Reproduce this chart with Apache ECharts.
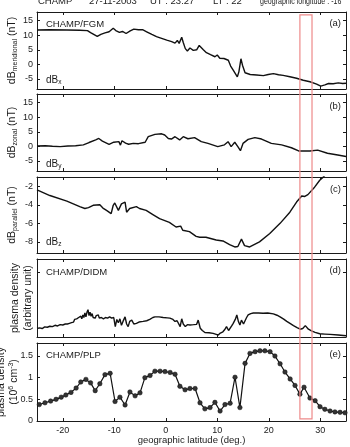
<!DOCTYPE html>
<html>
<head>
<meta charset="utf-8">
<script src="https://cdn.jsdelivr.net/npm/echarts@6/dist/echarts.min.js"></script>
<style>
html, body { margin: 0; padding: 0; background: #fff; }
#id-div-chart { width: 350px; height: 447px; }
</style>
</head>
<body>
<div id="id-div-chart"></div>
<script>
var log = console.log.bind(console)

var e = (selector) => document.querySelector(selector)

// [latitude, value]
var fgmX = [
    [-25, 11.8], [-22.5, 11.9], [-19.2, 11.8], [-16.7, 11.7], [-15.2, 11.6], [-14.6, 10.9],
    [-13.9, 10.2], [-13.3, 9.6], [-12.6, 10.3], [-11.8, 10.8], [-11.0, 11.2], [-10.2, 12.4],
    [-9.7, 11.6], [-9.0, 11.0], [-8.4, 11.3], [-7.7, 10.6], [-6.9, 11.5], [-6.2, 12.1],
    [-5.3, 11.9], [-4.5, 11.9], [-3.7, 11.2], [-2.7, 10.3], [-1.8, 9.5], [-0.8, 8.9],
    [0.2, 8.3], [1.15, 7.8], [1.8, 7.3], [2.25, 8.2], [2.6, 7.2], [3.1, 9.3], [3.4, 7.5],
    [3.8, 5.4], [4.2, 4.6], [4.7, 5.6], [5.35, 4.8], [6.0, 5.0], [6.5, 6.5], [6.8, 6.9],
    [7.3, 5.0], [7.9, 4.0], [8.7, 3.3], [9.55, 2.6], [10.0, 3.2], [10.5, 2.1], [11.3, 2.0],
    [12.15, 1.4], [12.6, -0.6], [13.1, -2.0], [13.4, -1.5], [13.9, -4.3], [14.2, -2.6],
    [14.6, 1.9], [14.9, -0.3], [15.4, -2.9], [16.4, -3.5], [17.65, -3.7], [18.95, -3.9],
    [19.9, -3.5], [20.9, -3.2], [21.9, -3.6], [22.8, -3.8], [24.1, -4.3], [25.4, -4.8],
    [26.7, -5.5], [28.0, -6.0], [29.3, -6.8], [30.1, -7.5], [30.9, -7.1], [31.6, -6.6],
    [32.5, -6.7], [33.5, -6.4], [34.35, -6.6], [35, -6.5],
]

var fgmY = [
    [-25, 0.1], [-23.4, 0.2], [-22, 0.0], [-20.5, -0.1], [-19, 0.1], [-17.5, 0.2], [-16, 0.5],
    [-14.9, 1.3], [-13.6, 2.2], [-13, 2.7], [-12.3, 1.8], [-11, 0.7], [-10.1, 1.4], [-9.1, 1.6],
    [-8.8, 0.4], [-8.5, 1.9], [-7.8, 1.1], [-7.2, 0.7], [-6.3, 1.0], [-5.3, 0.9], [-4.0, 1.4],
    [-3.4, 3.3], [-2.1, 4.1], [-0.8, 4.3], [-0.2, 3.9], [0.5, 2.7], [1.1, 2.5], [1.8, 3.3],
    [2.7, 2.2], [3.4, 3.3], [4.3, 2.6], [5.6, 3.0], [6.9, 1.6], [8.2, 1.0], [10.1, -0.1],
    [11.4, 0.5], [12.1, 1.6], [12.7, -0.1], [13.4, 1.4], [14.0, -0.1], [14.5, -1.5], [15.0, 1.0],
    [16.0, 2.4], [17.3, 3.0], [18.6, 2.5], [20.5, 1.0], [22.5, 0.5], [24.4, -0.5], [25.8, -1.6],
    [28, -1.6], [29.5, -1.3], [31.4, -2.4], [33.4, -3.0], [35, -3.5],
]

var fgmZ = [
    [-25, -2.4], [-22.5, -3.0], [-19.2, -3.6], [-16.7, -4.2], [-15.7, -4.4], [-15.0, -4.3],
    [-14.1, -4.05], [-12.8, -4.0], [-12.2, -4.35], [-11.5, -4.6], [-10.6, -4.95], [-10.2, -4.05],
    [-9.9, -3.8], [-9.2, -4.6], [-8.6, -3.9], [-7.9, -3.7], [-7.6, -4.8], [-7.0, -4.4],
    [-5.7, -4.2], [-5.1, -4.4], [-3.8, -4.6], [-2.5, -5.05], [-1.2, -5.5], [0.7, -5.9],
    [2.0, -6.4], [2.9, -6.3], [3.3, -6.75], [4.6, -6.9], [5.9, -7.4], [6.6, -7.5], [7.8, -7.5],
    [9.8, -7.8], [11.1, -7.9], [12.4, -8.3], [13.4, -8.55], [14.0, -8.5], [14.7, -7.7],
    [15.3, -8.4], [16.3, -8.55], [18.2, -8.0], [20.2, -7.1], [22.2, -6.0], [24.1, -4.8],
    [25.4, -3.7], [26.4, -3.05], [27.0, -3.1], [27.6, -2.9], [28.9, -2.1], [29.9, -1.35],
    [30.4, -1.1], [31.5, -0.5],
]

var didm = [
    [-25, 0.13], [-24.5, 0.14], [-24, 0.13], [-23.5, 0.155], [-23, 0.15], [-22.5, 0.165],
    [-22, 0.16], [-21.5, 0.18], [-21, 0.17], [-20.5, 0.19], [-20, 0.185], [-19.5, 0.2],
    [-19.3, 0.22], [-19.1, 0.2], [-18.9, 0.23], [-18.7, 0.21], [-18.5, 0.24], [-18.3, 0.22],
    [-18.1, 0.25], [-17.9, 0.23], [-17.7, 0.27], [-17.5, 0.24], [-17.3, 0.28], [-17.1, 0.26],
    [-16.9, 0.3], [-16.7, 0.27], [-16.5, 0.32], [-16.3, 0.28], [-16.1, 0.34], [-15.9, 0.3],
    [-15.7, 0.37], [-15.5, 0.31], [-15.3, 0.38], [-15.1, 0.42], [-14.9, 0.33], [-14.7, 0.38],
    [-14.5, 0.32], [-14.3, 0.36], [-14.1, 0.3], [-13.9, 0.33], [-13.7, 0.29], [-13.5, 0.33],
    [-13.3, 0.3], [-13.1, 0.34], [-12.9, 0.29], [-12.7, 0.32], [-12.5, 0.3], [-12.3, 0.33],
    [-12.1, 0.28], [-11.9, 0.31], [-11.7, 0.3], [-11.5, 0.33], [-11.3, 0.29], [-11.1, 0.32],
    [-10.9, 0.31], [-10.7, 0.34], [-10.5, 0.29], [-10.3, 0.31], [-10.1, 0.3],
    [-9.8, 0.16], [-9.5, 0.27], [-9.2, 0.22], [-8.9, 0.28], [-8.6, 0.18], [-8.3, 0.24],
    [-7.9, 0.31], [-7.6, 0.2], [-7.3, 0.16], [-7, 0.24], [-6.6, 0.26], [-6.2, 0.2],
    [-5.7, 0.21], [-5.2, 0.23], [-4.4, 0.24], [-3.7, 0.25], [-3.1, 0.27], [-2.5, 0.3],
    [-2.1, 0.31], [-1.3, 0.31], [-0.5, 0.3], [0.3, 0.295], [0.8, 0.29], [1.4, 0.27],
    [1.8, 0.24], [2.2, 0.25], [2.5, 0.26], [2.8, 0.16], [3.1, 0.28], [3.4, 0.2], [3.8, 0.16],
    [4.2, 0.19], [4.7, 0.185], [5.4, 0.19], [6.0, 0.195], [6.3, 0.26], [6.7, 0.135],
    [7.1, 0.1], [7.6, 0.07], [8.4, 0.065], [9.2, 0.055], [9.8, 0.04], [10.2, 0.03],
    [10.6, 0.06], [11.1, 0.08], [11.5, 0.12], [11.8, 0.16], [12.2, 0.1], [12.5, 0.11],
    [12.8, 0.17], [13.1, 0.21], [13.5, 0.27], [13.8, 0.34], [14.1, 0.24], [14.4, 0.185],
    [14.7, 0.26], [15.1, 0.2], [15.4, 0.185], [15.7, 0.3], [16.0, 0.34], [16.5, 0.36],
    [17.0, 0.37], [18.0, 0.37], [18.9, 0.365], [19.8, 0.37], [20.9, 0.355], [21.6, 0.335],
    [22.2, 0.31], [22.9, 0.275], [23.5, 0.24], [24.2, 0.205], [24.8, 0.175], [25.5, 0.145],
    [26.1, 0.12], [26.6, 0.13], [27.1, 0.175], [27.4, 0.15], [27.7, 0.12], [28.3, 0.093],
    [29.0, 0.07], [29.9, 0.05], [30.9, 0.045], [31.9, 0.04], [33.5, 0.03], [35, 0.02],
]

var plp = [
    [-24.55, 0.38], [-23.45, 0.42], [-22.35, 0.46], [-21.3, 0.5], [-20.3, 0.55], [-19.4, 0.6],
    [-18.4, 0.66], [-17.4, 0.76], [-16.5, 0.9], [-15.5, 0.96], [-14.6, 0.88], [-13.7, 0.7],
    [-12.8, 0.86], [-11.8, 1.07], [-10.8, 1.1], [-9.85, 0.45], [-8.9, 0.55], [-7.9, 0.37],
    [-6.95, 0.67], [-5.95, 0.58], [-5.0, 0.65], [-4.05, 1.0], [-3.05, 1.05], [-2.1, 1.15],
    [-1.1, 1.15], [-0.15, 1.14], [0.85, 1.12], [1.8, 1.08], [2.75, 0.8], [3.75, 0.72],
    [4.7, 0.75], [5.7, 0.75], [6.65, 0.42], [7.6, 0.28], [8.6, 0.31], [9.55, 0.43],
    [10.55, 0.23], [11.5, 0.38], [12.5, 0.41], [13.45, 1.01], [14.4, 0.31], [15.4, 1.33],
    [16.35, 1.56], [17.35, 1.6], [18.3, 1.62], [19.25, 1.62], [20.25, 1.6], [21.2, 1.5],
    [22.2, 1.32], [23.15, 1.13], [24.15, 0.97], [25.1, 0.82], [26.05, 0.62], [26.85, 0.78],
    [28.0, 0.53], [29.0, 0.47], [29.95, 0.33], [30.9, 0.27], [31.9, 0.23], [32.85, 0.21],
    [33.85, 0.2], [34.8, 0.19],
]

// 红框: 纬度范围, 上沿(面板a的值), 下沿(面板e的值)
var boxLat = [26.05, 28.4]
var boxTop = 17.0
var boxBottom = 0.05

var latRange = [-25, 35]
var yRanges = [[-8.5, 18], [-8.5, 18], [-9.2, -1], [0, 1.2], [0, 1.8]]
var ySplits = [5, 5, 4, 1, 4]

var gridTops = [12, 94, 177, 259, 343]
var gridHeights = [77, 77, 76, 78, 78]

var font = 'Liberation Sans, Arial, sans-serif'
var ink = '#1a1a1a'

var yNames = [
    '{m|dB}{s|meridional}{m| (nT)}',
    '{m|dB}{s|zonal}{m| (nT)}',
    '{m|dB}{s|parallel}{m| (nT)}',
    '{m|plasma density}\n{m|(arbitrary unit)}',
    '{m|plasma density}\n{m|(10}{p|6}{m| cm}{p|-3}{m|)}',
]
var yNameGaps = [18, 18, 18, 2, 16]

var rich = {
    m: {fontSize: 10.5, lineHeight: 13, verticalAlign: 'middle', fontFamily: font, color: ink},
    s: {fontSize: 7, lineHeight: 7, verticalAlign: 'bottom', fontFamily: font, color: ink},
    p: {fontSize: 7, lineHeight: 7, verticalAlign: 'top', fontFamily: font, color: ink},
}

var configuredChart = function() {
    var element = e('#id-div-chart')
    var chart = echarts.init(element, null, {renderer: 'canvas'})
    return chart
}

var makeGrids = function() {
    var grids = []
    for (var i = 0; i < 5; i++) {
        grids.push({
            left: 37,
            right: 4,
            top: gridTops[i],
            height: gridHeights[i],
            outerBoundsMode: 'none',
            containLabel: false,
        })
    }
    return grids
}

var makeXAxes = function() {
    var axes = []
    var positions = ['bottom', 'top']
    for (var k = 0; k < 2; k++) {
        for (var i = 0; i < 5; i++) {
            var labelled = (k == 0 && i == 4)
            axes.push({
                gridIndex: i,
                type: 'value',
                position: positions[k],
                min: latRange[0],
                max: latRange[1],
                splitNumber: 6,
                name: labelled ? 'geographic latitude (deg.)' : '',
                nameLocation: 'middle',
                nameGap: 14,
                nameMoveOverlap: false,
                nameTextStyle: {fontSize: 9.5, fontFamily: font, color: ink},
                axisLine: {show: true, onZero: false, lineStyle: {color: ink, width: 1}},
                axisTick: {show: true, inside: true, length: 3, lineStyle: {color: ink}},
                axisLabel: {
                    show: labelled,
                    showMinLabel: false,
                    showMaxLabel: false,
                    margin: 5,
                    fontSize: 9,
                    fontFamily: font,
                    color: ink,
                },
                splitLine: {show: false},
            })
        }
    }
    return axes
}

var makeYAxes = function() {
    var axes = []
    var positions = ['left', 'right']
    for (var k = 0; k < 2; k++) {
        for (var i = 0; i < 5; i++) {
            var left = k == 0
            axes.push({
                gridIndex: i,
                type: 'value',
                position: positions[k],
                min: yRanges[i][0],
                max: yRanges[i][1],
                splitNumber: ySplits[i],
                name: left ? yNames[i] : '',
                nameLocation: 'middle',
                nameRotate: 90,
                nameGap: yNameGaps[i],
                nameMoveOverlap: false,
                nameTextStyle: {rich: rich},
                axisLine: {show: true, onZero: false, lineStyle: {color: ink, width: 1}},
                axisTick: {show: true, inside: true, length: 3, lineStyle: {color: ink}},
                axisLabel: {
                    show: left && i != 3,
                    showMinLabel: i == 4,
                    showMaxLabel: false,
                    margin: 4,
                    fontSize: 9,
                    fontFamily: font,
                    color: ink,
                },
                splitLine: {show: false},
            })
        }
    }
    return axes
}

var lineSeries = function(index, data) {
    return {
        type: 'line',
        xAxisIndex: index,
        yAxisIndex: index,
        data: data,
        showSymbol: false,
        symbol: 'none',
        clip: true,
        animation: false,
        lineStyle: {color: '#111', width: 1.4},
    }
}

var panelText = function(x, y, text, align) {
    return {
        type: 'text',
        x: x,
        y: y,
        silent: true,
        style: {
            text: text,
            fontSize: 9.5,
            fontFamily: font,
            fill: ink,
            align: align || 'left',
            verticalAlign: 'middle',
            rich: {
                m: {fontSize: 10, fontFamily: font, fill: ink, lineHeight: 12, verticalAlign: 'middle'},
                s: {fontSize: 6.5, fontFamily: font, fill: ink, lineHeight: 6, verticalAlign: 'bottom'},
            },
        },
    }
}

var headerTexts = function() {
    // [x, 文本, 横向压缩]
    var items = [
        [38, 'CHAMP', 1],
        [89, '27-11-2003', 1],
        [150, 'UT : 23:27', 1],
        [213, 'LT : 22', 1],
        [260, 'geographic longitude : -16', 0.74],
    ]
    var list = []
    for (var i = 0; i < items.length; i++) {
        list.push({
            type: 'text',
            x: items[i][0],
            y: 6,
            scaleX: items[i][2],
            silent: true,
            style: {
                text: items[i][1],
                fontSize: 9.5,
                fontFamily: font,
                fill: ink,
                verticalAlign: 'bottom',
            },
        })
    }
    return list
}

var labelTexts = function() {
    return [
        panelText(46, 24, 'CHAMP/FGM'),
        panelText(341, 23, '(a)', 'right'),
        panelText(46, 80, '{m|dB}{s|x}'),
        panelText(341, 106, '(b)', 'right'),
        panelText(46, 164, '{m|dB}{s|y}'),
        panelText(341, 189, '(c)', 'right'),
        panelText(46, 242, '{m|dB}{s|z}'),
        panelText(46, 272, 'CHAMP/DIDM'),
        panelText(341, 270, '(d)', 'right'),
        panelText(46, 355, 'CHAMP/PLP'),
        panelText(341, 354, '(e)', 'right'),
    ]
}

var formattedOption = function() {
    var plpSeries = {
        type: 'line',
        xAxisIndex: 4,
        yAxisIndex: 4,
        data: plp,
        symbol: 'circle',
        symbolSize: 4.5,
        showSymbol: true,
        animation: false,
        lineStyle: {color: '#111', width: 1.2},
        itemStyle: {color: '#333', borderColor: '#111', borderWidth: 0.5},
    }
    var option = {
        backgroundColor: '#fff',
        animation: false,
        grid: makeGrids(),
        xAxis: makeXAxes(),
        yAxis: makeYAxes(),
        series: [
            lineSeries(0, fgmX),
            lineSeries(1, fgmY),
            lineSeries(2, fgmZ),
            lineSeries(3, didm),
            plpSeries,
        ],
        graphic: headerTexts().concat(labelTexts()),
    }
    return option
}

// 用坐标轴换算红框位置
var drawBox = function(chart) {
    var x0 = chart.convertToPixel({xAxisIndex: 0}, boxLat[0])
    var x1 = chart.convertToPixel({xAxisIndex: 0}, boxLat[1])
    var y0 = chart.convertToPixel({yAxisIndex: 0}, boxTop)
    var y1 = chart.convertToPixel({yAxisIndex: 4}, boxBottom)
    var graphic = headerTexts().concat(labelTexts())
    graphic.push({
        type: 'rect',
        silent: true,
        z: 100,
        shape: {x: x0, y: y0, width: x1 - x0, height: y1 - y0},
        style: {fill: 'none', stroke: '#ee8a8a', lineWidth: 1.2},
    })
    chart.setOption({graphic: graphic}, {replaceMerge: ['graphic']})
}

var renderChart = function() {
    var chart = configuredChart()
    chart.setOption(formattedOption())
    drawBox(chart)
}

var __main = function() {
    renderChart()
}

__main()
</script>
</body>
</html>
